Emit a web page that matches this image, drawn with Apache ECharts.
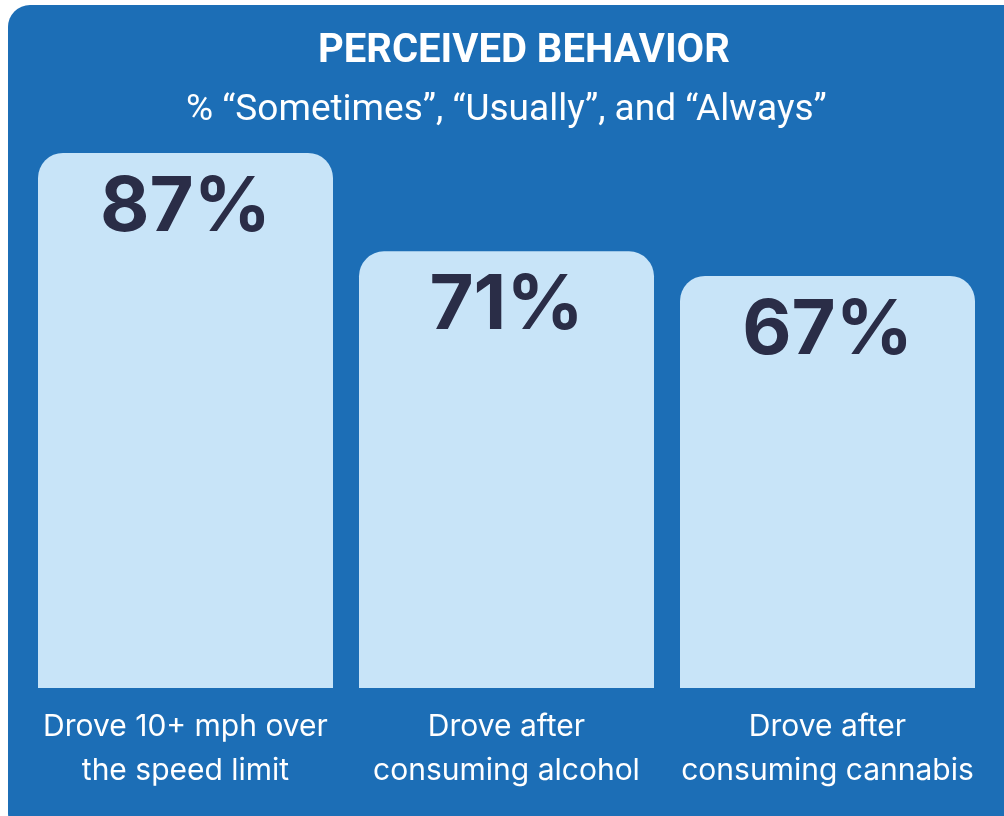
<!DOCTYPE html>
<html>
<head>
<meta charset="utf-8">
<script src="https://cdn.jsdelivr.net/npm/echarts@6/dist/echarts.min.js"></script>
<style>
  html, body { margin: 0; padding: 0; background: #fff; }
  #chart { width: 1004px; height: 816px; }
</style>
</head>
<body>
<div id="chart"></div>
<script>
// data
var categories = ['Drove 10+ mph over\nthe speed limit', 'Drove after\nconsuming alcohol', 'Drove after\nconsuming cannabis'];
var values = [87, 71, 67];

var chart = echarts.init(document.getElementById('chart'));

var option = {
    backgroundColor: '#ffffff',
    graphic: [
        {
            type: 'rect', z: -10, silent: true,
            shape: { x: 8, y: 5, width: 1020, height: 830, r: 22 },
            style: { fill: '#1c6eb6' }
        },
        {
            type: 'text', left: 318, top: 32,
            style: { text: 'PERCEIVED BEHAVIOR', fill: '#fff', font: 'bold 40px Roboto, sans-serif' }
        },
        {
            type: 'text', left: 186, top: 92,
            style: { text: '% \u201CSometimes\u201D, \u201CUsually\u201D, and \u201CAlways\u201D', fill: '#fff', font: '37px Roboto, sans-serif' }
        }
    ],
    grid: { left: 25, right: 16, top: 73, bottom: 128 },
    xAxis: {
        type: 'category',
        data: categories,
        axisLine: { show: false },
        axisTick: { show: false },
        axisLabel: {
            interval: 0,
            color: '#ffffff',
            fontFamily: 'Inter',
            fontSize: 30,
            lineHeight: 44,
            margin: 17
        }
    },
    yAxis: {
        type: 'value',
        min: 0,
        max: 100,
        show: false,
        splitLine: { show: false }
    },
    series: [{
        type: 'bar',
        data: values,
        barWidth: 295,
        itemStyle: { color: '#c8e4f8', borderRadius: [25, 25, 0, 0] },
        label: {
            show: true,
            position: 'insideTop',
            distance: 17,
            formatter: '{c}%',
            color: '#2a2d47',
            fontFamily: 'Inter',
            fontWeight: 'bold',
            fontSize: 76
        }
    }]
};

chart.setOption(option);
</script>
</body>
</html>
